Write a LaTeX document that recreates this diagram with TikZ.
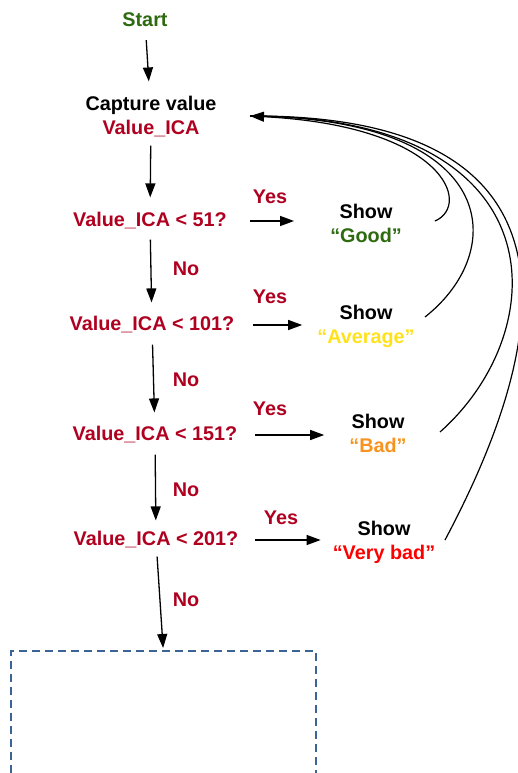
\documentclass[tikz,border=0pt]{standalone}
\usepackage{fontspec}
\setmainfont{Liberation Sans}
\usetikzlibrary{arrows.meta}
\definecolor{dgreen}{HTML}{2D6A10}
\definecolor{dred}{HTML}{B00020}
\definecolor{yel}{HTML}{FFE21A}
\definecolor{org}{HTML}{F7931E}
\definecolor{vred}{HTML}{FF0000}
\definecolor{boxblue}{HTML}{3A6496}
\tikzset{
  t/.style={inner sep=0pt, align=center, font=\fontsize{19.8}{24}\selectfont\bfseries},
  q/.style={t, text=dred},
  lab/.style={t, text=dred},
  arr/.style={line width=1.3pt, -{Triangle[length=14pt,width=10pt]}},
  back/.style={line width=1.2pt},
  backtip/.style={line width=1.2pt, -{Triangle[length=14pt,width=10pt]}},
  boxst/.style={draw=boxblue, line width=1.5pt, dash pattern=on 8pt off 5pt, inner sep=0pt}
}
\begin{document}
\begin{tikzpicture}[x=1pt,y=-1pt]
\useasboundingbox (0,0) rectangle (518,773);
% nodes
\node[t, text=dgreen] (start) at (145,20) {Start};
\node[t] (cap) at (151,117) {Capture value\\\textcolor{dred}{Value\_ICA}};
\node[q] (q1) at (150,221) {Value\_ICA < 51?};
\node[q] (q2) at (152,325) {Value\_ICA < 101?};
\node[q] (q3) at (155,435) {Value\_ICA < 151?};
\node[q] (q4) at (156,540) {Value\_ICA < 201?};
\node[t] (s1) at (366,223) {Show\\\textcolor{dgreen}{“Good”}};
\node[t] (s2) at (366,326) {Show\\\textcolor{yel}{“Average”}};
\node[t] (s3) at (378,433) {Show\\\textcolor{org}{“Bad”}};
\node[t] (s4) at (384,542) {Show\\\textcolor{vred}{“Very bad”}};
\node[lab] (y1) at (270,197) {Yes};
\node[lab] (y2) at (270,297) {Yes};
\node[lab] (y3) at (270,409) {Yes};
\node[lab] (y4) at (281,518) {Yes};
\node[lab] (n1) at (186,269) {No};
\node[lab] (n2) at (186,380) {No};
\node[lab] (n3) at (186,490) {No};
\node[lab] (n4) at (186,600) {No};
\node[boxst, anchor=north west, minimum width=305pt, minimum height=160pt] (box) at (10,650) {};
% vertical arrows
\draw[arr, shorten <=13pt, shorten >=15pt] (start) -- (cap);
\draw[arr, shorten <=8pt, shorten >=15pt] (cap) -- (q1);
\draw[arr, shorten <=10pt, shorten >=14pt] (q1) -- (q2);
\draw[arr, shorten <=11pt, shorten >=14pt] (q2) -- (q3);
\draw[arr, shorten <=11pt, shorten >=11pt] (q3) -- (q4);
\draw[arr, shorten <=8pt, shorten >=2pt] (q4) -- (box.north);
% horizontal arrows
\draw[arr, shorten <=23pt, shorten >=36pt] (q1.east) -- (q1.east -| s1.west);
\draw[arr, shorten <=19pt, shorten >=15pt] (q2.east) -- (q2.east -| s2.west);
\draw[arr, shorten <=18pt, shorten >=25pt] (q3.east) -- (q3.east -| s3.west);
\draw[arr, shorten <=17pt, shorten >=12pt] (q4.east) -- (q4.east -| s4.west);
% return curves
\coordinate (ret) at (250,116);
\coordinate (c1) at (435,221);
\coordinate (c2) at (425,317);
\coordinate (c3) at (440,432);
\coordinate (c4) at (445,540);
\draw[back] (c4) .. controls (530,380) and (625,114) .. (ret);
\draw[back] (c3) .. controls (555,330) and (560,116) .. (ret);
\draw[back] (c2) .. controls (510,250) and (500,118) .. (ret);
\draw[backtip] (c1) .. controls (472,205) and (445,126) .. (ret);
\end{tikzpicture}
\end{document}
